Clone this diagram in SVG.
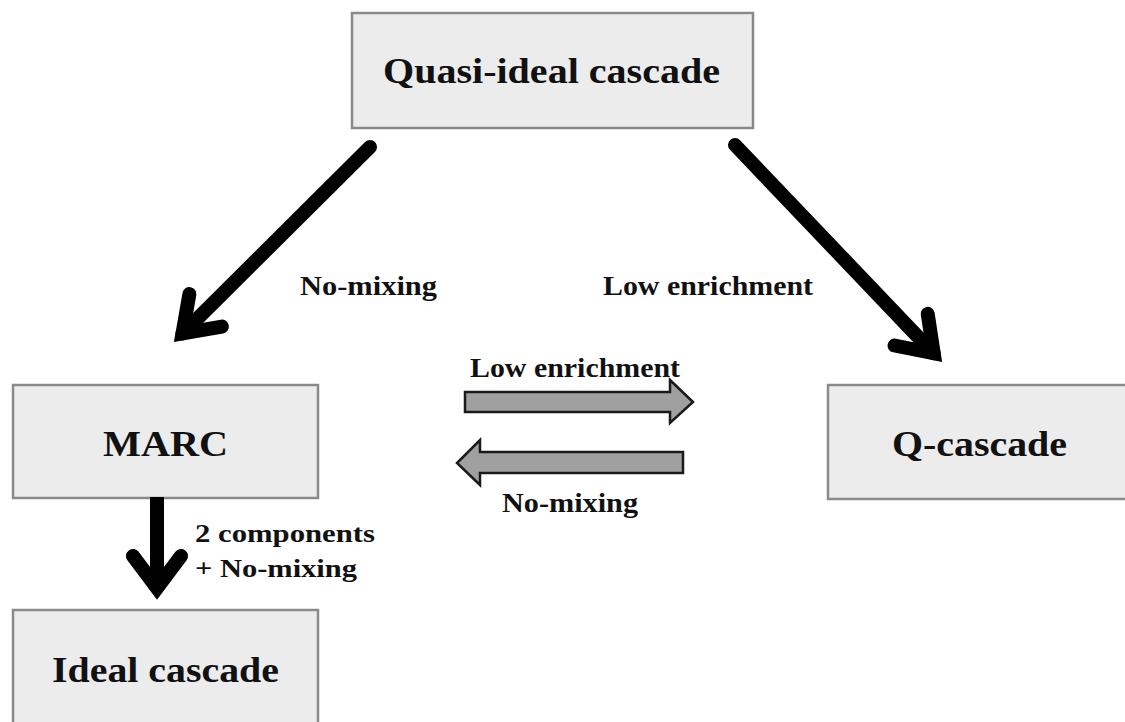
<svg xmlns="http://www.w3.org/2000/svg" width="1125" height="722" viewBox="0 0 1125 722">
<style>
.box{fill:#ececec;stroke:#8a8a8a;stroke-width:2.5}
.t{font-family:"Liberation Serif","Times New Roman",serif;font-weight:bold;fill:#111}
.big{font-size:35px}
.lbl{font-size:27px}
.sm{font-size:26px}
.arr{fill:none;stroke:#000;stroke-width:14}
.blk{fill:#a0a0a0;stroke:#1a1a1a;stroke-width:2.5;stroke-linejoin:miter}
</style>
<rect width="1125" height="722" fill="#fff"/>
<g id="quasi">
<rect class="box" x="352" y="13" width="401" height="115"/>
<text class="t big" x="383" y="83" textLength="337" lengthAdjust="spacingAndGlyphs">Quasi-ideal cascade</text>
</g>
<g id="marc">
<rect class="box" x="13" y="385" width="305" height="113"/>
<text class="t big" x="103" y="456" textLength="125" lengthAdjust="spacingAndGlyphs">MARC</text>
</g>
<g id="qcascade">
<rect class="box" x="828" y="385" width="310" height="114"/>
<text class="t big" x="892" y="456" textLength="175" lengthAdjust="spacingAndGlyphs">Q-cascade</text>
</g>
<g id="ideal">
<rect class="box" x="13" y="610" width="305" height="130"/>
<text class="t big" x="52" y="682" textLength="227" lengthAdjust="spacingAndGlyphs">Ideal cascade</text>
</g>
<g id="connectors">
<path class="arr" d="M370,147 L182.5,333.5" stroke-linecap="round"/>
<path class="arr" d="M189.4,294.1 L182.5,333.5 L221.9,326.6" stroke-linecap="round" stroke-linejoin="miter"/>
<path class="arr" d="M735,145 L933.7,353.3" stroke-linecap="round"/>
<path class="arr" d="M894.5,345.5 L933.7,353.3 L927.7,313.8" stroke-linecap="round" stroke-linejoin="miter"/>
<path class="arr" d="M157,497 L157,588" stroke-width="13"/>
<path class="arr" d="M133,556 L157,588 L181,556" stroke-linecap="round" stroke-linejoin="miter"/>
<polygon class="blk" points="465,392 670,392 670,380 693,402 670,423 670,412 465,412"/>
<polygon class="blk" points="683,452 480,452 480,440 457,463 480,485 480,473 683,473"/>
<text class="t lbl" x="300" y="295" textLength="137" lengthAdjust="spacingAndGlyphs">No-mixing</text>
<text class="t lbl" x="603" y="295" textLength="210" lengthAdjust="spacingAndGlyphs">Low enrichment</text>
<text class="t lbl" x="470" y="377" textLength="210" lengthAdjust="spacingAndGlyphs">Low enrichment</text>
<text class="t lbl" x="502" y="512" textLength="136" lengthAdjust="spacingAndGlyphs">No-mixing</text>
<text class="t sm" x="195" y="542" textLength="180" lengthAdjust="spacingAndGlyphs">2 components</text>
<text class="t sm" x="195" y="577" textLength="162" lengthAdjust="spacingAndGlyphs">+ No-mixing</text>
</g>
</svg>
